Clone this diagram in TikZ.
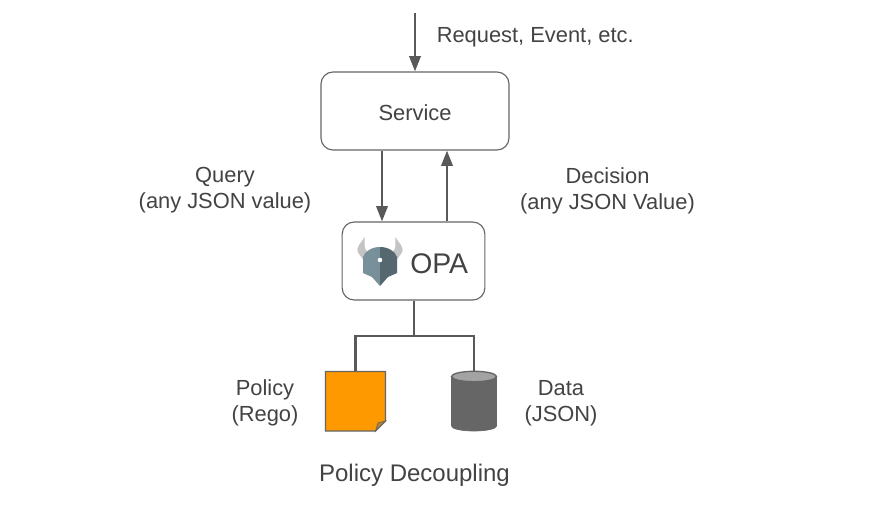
\documentclass[tikz,border=0pt]{standalone}
\usepackage{fontspec}
\setmainfont{Liberation Sans}
\usetikzlibrary{arrows.meta}
\definecolor{txt}{HTML}{434343}
\definecolor{ln}{HTML}{595959}
\definecolor{boxln}{HTML}{666666}
\definecolor{org}{HTML}{FF9900}
\definecolor{fold}{HTML}{B9852F}
\definecolor{cyl}{HTML}{666666}
\definecolor{cyltop}{HTML}{A3A3A3}
\definecolor{horn}{HTML}{C4C4C4}
\definecolor{shieldl}{HTML}{78909A}
\definecolor{shieldr}{HTML}{56686F}
\tikzset{
  x=0.75pt,y=-0.75pt,
  box/.style={draw=boxln,line width=0.85pt,rounded corners=9pt,fill=white,inner sep=0pt},
  lbl/.style={text=txt,font=\fontsize{16.4}{19.5}\selectfont,align=center,inner sep=0pt},
  conn/.style={draw=ln,line width=1.9pt},
  arr/.style={conn,-{Triangle[length=11.5pt,width=8.5pt]}},
}
\begin{document}
\begin{tikzpicture}
\useasboundingbox (0,0) rectangle (880,507);
\fill[white] (0,0) rectangle (880,507);
\node[box,minimum width=141pt,minimum height=58.5pt] (service) at (415,111) {};
\node[lbl] (servicetxt) at (415,113) {Service};
\node[box,minimum width=107pt,minimum height=58.5pt] (opa) at (413.5,261) {};
\node[lbl,font=\fontsize{21.3}{24}\selectfont,anchor=west] (opatxt) at (410,263.5) {OPA};
\coordinate (in) at (415,13);
\coordinate (qx) at (382,0);
\coordinate (dx) at (447,0);
\draw[arr] (in) -- (service.north);
\node[lbl,anchor=west] (req) at (436.5,37.5) {Request, Event, etc.};
\draw[arr] (service.south -| qx) -- (opa.north -| qx);
\draw[arr] (opa.north -| dx) -- (service.south -| dx);
\node[lbl] (q) at (225,190.5) {Query\\(any JSON value)};
\node[lbl] (d) at (607.5,190.5) {Decision\\(any JSON Value)};
% policy
\fill[org,draw=boxln,line width=1pt] (325.5,371.5) -- (385.5,371.5) -- (385.5,421) -- (375.5,431) -- (325.5,431) -- cycle;
\fill[fold,draw=boxln,line width=0.6pt] (385.5,421) -- (378,423) -- (375.5,431) -- cycle;
\coordinate (policy) at (355.5,371);
% data
\fill[cyl,draw=boxln,line width=0.5pt] (451.5,376.5) -- (451.5,426) arc[start angle=180,end angle=0,x radius=22.5,y radius=5] -- (496.5,376.5) -- cycle;
\fill[cyltop,draw=boxln,line width=1pt] (474,376.5) ellipse[x radius=22.5,y radius=5.2];
\coordinate (data) at (474,371);
\coordinate (branch) at (414,336);
\draw[conn] (opa.south -| branch) -- (branch);
\draw[conn,line join=miter] (policy) |- (branch) -| (data);
\node[lbl] (pl) at (265,403) {Policy\\(Rego)};
\node[lbl] (dl) at (561,403) {Data\\(JSON)};
\node[lbl,font=\fontsize{18}{20}\selectfont] (cap) at (414.5,475.5) {Policy Decoupling};
% logo
\fill[horn] (364.5,237) .. controls (362,243) and (354,247) .. (359,254) .. controls (361,257) and (363,259) .. (365,262) -- (367.5,252) .. controls (363,248) and (365,243) .. (364.5,237) -- cycle;
\fill[horn] (395.5,237) .. controls (398,243) and (406,247) .. (401,254) .. controls (399,257) and (397,259) .. (395,262) -- (392.5,252) .. controls (397,248) and (395,243) .. (395.5,237) -- cycle;
\fill[shieldl] (380,247) .. controls (372,247) and (365,251) .. (363,257) -- (363,273) -- (372,277) -- (380,286) -- cycle;
\fill[shieldr] (380,247) .. controls (388,247) and (395,251) .. (397,257) -- (397,273) -- (388,277) -- (380,286) -- cycle;
\fill[white] (380,260) circle[radius=2.3];
\end{tikzpicture}
\end{document}
